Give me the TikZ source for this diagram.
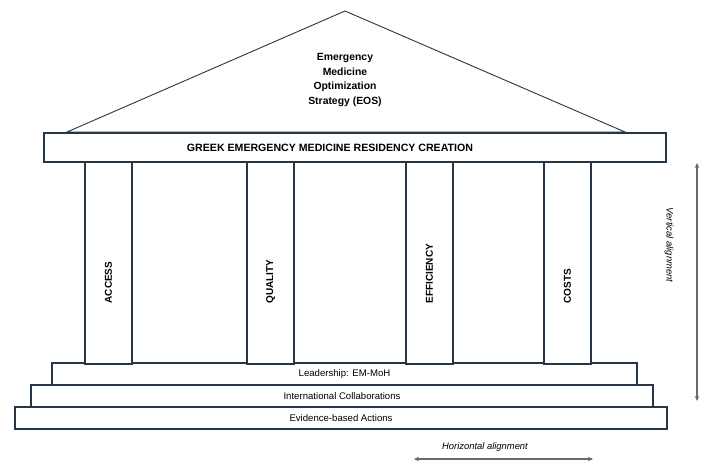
\documentclass[tikz,border=0pt]{standalone}
\usepackage{fontspec}
\setmainfont{Liberation Sans}
\usetikzlibrary{arrows.meta,positioning}
\definecolor{edgeslate}{RGB}{38,54,70}
\definecolor{arrowgray}{RGB}{105,105,105}

\begin{document}
\begin{tikzpicture}[
  x=1pt,y=-1pt,
  every node/.style={font=\fontsize{9.6}{11}\selectfont},
  slab/.style={draw=edgeslate,line width=1.1pt,fill=white,inner sep=0pt,
               minimum height=22pt},
  pillar/.style={draw=edgeslate,line width=1.1pt,fill=white,inner sep=0pt,
                 minimum width=47pt,minimum height=202pt},
  pillarlabel/.style={rotate=90,anchor=west,inner sep=0pt,
                      font=\fontsize{10}{12}\selectfont\bfseries},
  note/.style={font=\fontsize{9.4}{11}\selectfont\itshape},
  align arr/.style={{Stealth[length=5pt,width=4.5pt]}-{Stealth[length=5pt,width=4.5pt]},
                    arrowgray,line width=1.3pt},
]
  \useasboundingbox (0,0) rectangle (706,466);

  % Roof
  \coordinate (apex) at (345,11);
  \coordinate (eaveL) at (67,132);
  \coordinate (eaveR) at (625,132);
  \draw[edgeslate,line width=0.9pt] (eaveL) -- (apex) -- (eaveR) -- cycle;
  \node[align=center,font=\fontsize{10.4}{14.6}\selectfont\bfseries] (eos) at (345,80)
    {Emergency\\Medicine\\Optimization\\Strategy (EOS)};

  % Steps
  \node[slab,minimum width=652pt] (evidence) at (341,418) {Evidence-based Actions};
  \node[slab,minimum width=622pt] (intl) at (342,396) {International Collaborations};
  \node[slab,minimum width=585pt] (lead) at (344.5,374) {Leadership: EM-MoH};

  % Pillars
  \foreach \name/\px/\txt in {access/108.5/ACCESS,quality/270.5/QUALITY,
                              efficiency/429.5/EFFICIENCY,costs/567.5/COSTS}{
    \node[pillar] (\name) at (\px,263) {};
    \node[pillarlabel] (\name-txt) at ([yshift=61pt]\name.south) {\txt};
  }

  % Beam
  \node[slab,minimum width=622pt,minimum height=29pt] (beam) at (355,147.5) {};
  \node[font=\fontsize{10.6}{12}\selectfont\bfseries] (beam-txt) at (330,147.5)
    {GREEK EMERGENCY MEDICINE RESIDENCY CREATION};

  % Alignment arrows
  \coordinate (vtop) at (697,163);
  \coordinate (vbot) at (697,401);
  \draw[align arr] (vtop) -- (vbot);
  \node[note,rotate=-90] (vlabel) at (669,245) {Vertical alignment};

  \coordinate (hleft) at (414,459);
  \coordinate (hright) at (593,459);
  \draw[align arr] (hleft) -- (hright);
  \node[note] (hlabel) at (485,447) {Horizontal alignment};
\end{tikzpicture}
\end{document}
